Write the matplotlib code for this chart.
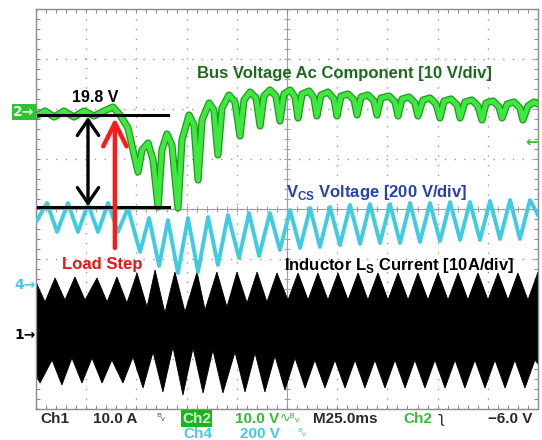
import matplotlib
matplotlib.use("Agg")
import matplotlib.pyplot as plt
import numpy as np
from matplotlib.ticker import MultipleLocator

# =====================================================
# DATA  (time in ms, 25 ms/div; amplitude in screen divisions)
# =====================================================

green_t = [0, 4.5, 9.0, 13.9, 18.9, 23.9, 28.9, 33.9, 38.3, 41.8, 45.8, 48.3,
           50.8, 52.8, 55.8, 58.3, 60.8, 62.7, 65.2, 67.7, 70.7, 72.7, 76.2, 78.7,
           80.7, 82.7, 86.2, 88.6, 90.6, 92.6, 96.1, 99.1, 101.6, 103.6, 106.6, 109.6,
           111.6, 113.5, 116.5, 119.5, 121.5, 123.5, 126.5, 129.0, 130.5, 132.5, 136.0, 138.4,
           139.9, 141.9, 145.4, 148.4, 149.9, 151.9, 155.4, 158.4, 159.9, 161.9, 165.3, 168.3,
           169.8, 171.8, 175.8, 178.8, 180.3, 182.3, 185.8, 188.7, 190.2, 192.7, 196.2, 199.2,
           201.2, 203.2, 206.7, 209.7, 211.2, 213.6, 217.1, 220.1, 222.1, 224.1, 227.6, 230.6,
           232.1, 234.6, 238.0, 241.0, 242.5, 245.0, 248.0, 250.0]
green_v = [1.86, 1.96, 1.84, 1.96, 1.84, 1.96, 1.86, 1.96, 2.04, 1.88, 1.62, 1.18,
           0.74, 1.18, 1.32, 0.98, 0.04, 1.18, 1.50, 1.28, 0.02, 1.38, 1.88, 1.68,
           0.58, 1.78, 2.12, 1.98, 1.08, 2.02, 2.28, 2.14, 1.46, 2.18, 2.34, 2.22,
           1.66, 2.26, 2.38, 2.26, 1.76, 2.30, 2.38, 2.24, 1.82, 2.30, 2.36, 2.22,
           1.86, 2.28, 2.34, 2.20, 1.86, 2.26, 2.30, 2.18, 1.88, 2.24, 2.28, 2.16,
           1.88, 2.22, 2.26, 2.14, 1.86, 2.20, 2.24, 2.12, 1.86, 2.18, 2.22, 2.10,
           1.82, 2.16, 2.20, 2.08, 1.82, 2.14, 2.18, 2.06, 1.78, 2.12, 2.16, 2.04,
           1.82, 2.10, 2.14, 2.02, 1.78, 2.06, 2.14, 2.10]

cyan_t = [0, 5.5, 10.5, 15.9, 20.9, 25.9, 30.9, 35.9, 40.8, 45.8,
          51.8, 56.3, 61.3, 65.7, 70.7, 75.7, 80.7, 85.7, 90.6, 95.6,
          101.1, 106.1, 111.1, 116.5, 121.5, 126.5, 131.5, 136.5, 141.4, 146.4,
          151.4, 156.4, 161.4, 166.3, 171.3, 176.3, 181.3, 186.3, 191.2, 196.2,
          201.2, 206.2, 211.2, 216.1, 221.1, 226.1, 231.1, 236.1, 241.0, 246.0, 250.0]
cyan_v = [-0.26, 0.12, -0.46, 0.12, -0.46, 0.10, -0.46, 0.12, -0.46, 0.02,
          -0.86, -0.18, -1.14, -0.22, -1.28, -0.18, -1.26, -0.16, -1.12, -0.12,
          -0.98, -0.08, -0.94, -0.08, -0.82, -0.02, -0.78, 0.02, -0.76, 0.04,
          -0.72, 0.08, -0.70, 0.10, -0.68, 0.10, -0.68, 0.12, -0.66, 0.12,
          -0.64, 0.14, -0.62, 0.14, -0.62, 0.16, -0.60, 0.18, -0.60, 0.18, -0.12]

# inductor current: upper and lower envelope of the switching band
cur_top_t = [0, 4.5, 9.5, 14.4, 19.4, 24.4, 30.4, 35.4, 40.3, 45.3, 50.3, 55.3,
             59.3, 64.2, 69.2, 74.2, 80.2, 84.2, 90.1, 95.1, 100.1, 105.1, 110.1, 115.0,
             120.0, 125.5, 130.5, 135.5, 140.4, 145.4, 150.4, 155.4, 160.4, 165.3, 170.3, 175.3,
             180.3, 185.3, 190.2, 195.2, 200.2, 205.2, 210.2, 215.1, 220.1, 225.1, 230.1, 235.1,
             240.0, 245.0, 250.0]
cur_top_v = [-1.46, -1.86, -1.38, -1.82, -1.36, -1.82, -1.38, -1.86, -1.36, -1.88, -1.28, -1.96,
             -1.22, -2.08, -1.26, -2.06, -1.26, -2.02, -1.26, -1.96, -1.26, -1.88, -1.26, -1.86,
             -1.28, -1.82, -1.28, -1.82, -1.28, -1.82, -1.28, -1.82, -1.28, -1.82, -1.28, -1.82,
             -1.28, -1.82, -1.28, -1.82, -1.28, -1.82, -1.28, -1.82, -1.28, -1.82, -1.28, -1.82,
             -1.28, -1.82, -1.26]
cur_bot_t = [0, 2.0, 8.0, 12.9, 17.9, 22.9, 27.9, 32.9, 37.8, 43.3, 48.3, 53.3,
             58.3, 63.2, 68.2, 73.2, 78.2, 83.2, 88.1, 93.1, 99.1, 104.1, 109.1, 114.0,
             119.0, 124.0, 129.0, 134.0, 138.9, 143.9, 148.9, 153.9, 158.9, 163.8, 168.8, 173.8,
             178.8, 183.8, 188.7, 193.7, 198.7, 203.7, 208.7, 213.6, 218.6, 223.6, 228.6, 233.6,
             238.5, 243.5, 248.5, 250.0]
cur_bot_v = [-3.32, -3.48, -3.02, -3.52, -2.98, -3.48, -2.98, -3.48, -3.02, -3.48, -2.96, -3.58,
             -2.86, -3.66, -2.76, -3.72, -2.78, -3.68, -2.82, -3.68, -2.86, -3.66, -2.88, -3.66,
             -2.94, -3.62, -2.98, -3.58, -3.02, -3.58, -3.02, -3.58, -3.02, -3.58, -3.02, -3.58,
             -3.02, -3.58, -3.02, -3.58, -3.02, -3.58, -3.02, -3.58, -3.02, -3.58, -3.02, -3.58,
             -3.02, -3.58, -3.02, -3.10]

# markers drawn on top of the scope shot
level_before = 1.88      # 19.8 V line
level_min = 0.04         # bottom of the dip
t_marker = 25.9          # double arrow
t_step = 39.3            # load step instant
step_tail = -0.78

# =====================================================
# FIGURE
# =====================================================

W, H = 542, 440
plt.rcParams["font.family"] = ["Liberation Sans", "DejaVu Sans"]
plt.rcParams["mathtext.fontset"] = "custom"
plt.rcParams["mathtext.rm"] = "Liberation Sans:bold"
plt.rcParams["mathtext.bf"] = "Liberation Sans:bold"

fig = plt.figure(figsize=(W / 100, H / 100), dpi=100)
fig.patch.set_facecolor("white")
rect = [36 / W, 31 / H, 502 / W, 400 / H]

grey = "#8c8c8c"

# center cross with small ticks
axc = fig.add_axes(rect)
axc.set_zorder(0)
axc.set_xlim(0, 250)
axc.set_ylim(-4, 4)
axc.spines["left"].set_position(("data", 125))
axc.spines["bottom"].set_position(("data", 0))
axc.spines["top"].set_visible(False)
axc.spines["right"].set_visible(False)
for s in ["left", "bottom"]:
    axc.spines[s].set_color("#a0a0a0")
    axc.spines[s].set_linewidth(0.8)
axc.xaxis.set_major_locator(MultipleLocator(25))
axc.xaxis.set_minor_locator(MultipleLocator(5))
axc.yaxis.set_major_locator(MultipleLocator(1))
axc.yaxis.set_minor_locator(MultipleLocator(0.2))
axc.tick_params(which="both", direction="inout", length=4, width=0.8, color="#a0a0a0",
                labelbottom=False, labelleft=False)

ax = fig.add_axes(rect)
ax.set_zorder(1)
ax.patch.set_visible(False)
ax.set_xlim(0, 250)
ax.set_ylim(-4, 4)
ax.xaxis.set_major_locator(MultipleLocator(25))
ax.xaxis.set_minor_locator(MultipleLocator(5))
ax.yaxis.set_major_locator(MultipleLocator(1))
ax.yaxis.set_minor_locator(MultipleLocator(0.2))
ax.tick_params(which="both", direction="in", length=3, width=0.8, color=grey,
               top=True, right=True, labelbottom=False, labelleft=False)
ax.grid(True, which="major", color="#9a9a9a", linestyle=(0, (1, 6)), linewidth=1)
for s in ax.spines.values():
    s.set_color(grey)
    s.set_linewidth(1)

# =====================================================
# TRACES
# =====================================================

band_t = np.r_[cur_top_t, cur_bot_t[::-1]]
band_v = np.r_[cur_top_v, cur_bot_v[::-1]]
ax.fill(band_t, band_v, color="black", lw=0.6, zorder=2)

ax.plot(green_t, green_v, color="#1f9a1f", lw=5.2, solid_joinstyle="round", zorder=3)
ax.plot(green_t, green_v, color="#3ee83e", lw=3.4, solid_joinstyle="round", zorder=3)

ax.plot(cyan_t, cyan_v, color="#40cce0", lw=2.8, solid_joinstyle="round", zorder=4)

# =====================================================
# ANNOTATIONS
# =====================================================

ax.plot([1, 65.5], [level_before, level_before], color="black", lw=2.2, zorder=5)
ax.plot([1, 66], [level_min, level_min], color="black", lw=2.2, zorder=5)

ax.annotate("", xy=(t_marker, level_min + 0.02), xytext=(t_marker, level_before - 0.04),
            arrowprops=dict(arrowstyle="<->,head_length=0.8,head_width=0.55", lw=2.4,
                            color="black", shrinkA=0, shrinkB=0, mutation_scale=14),
            zorder=6)
ax.annotate("", xy=(t_step, level_before - 0.06), xytext=(t_step, step_tail),
            arrowprops=dict(arrowstyle="->,head_length=1.2,head_width=0.6", lw=3.2,
                            color="#ff1a1a", shrinkA=0, shrinkB=0, mutation_scale=14),
            zorder=6)

ax.text(29.4, 2.14, "19.8 V", ha="center", va="baseline", fontsize=11.5,
        weight="bold", color="black", zorder=7)
ax.text(80.2, 2.62, "Bus Voltage Ac Component [10 V/div]", ha="left", va="baseline",
        fontsize=12, weight="bold", color="#1c6b1c", zorder=7)
ax.text(124.5, 0.25, r"V$_{\mathrm{CS}}$ Voltage [200 V/div]", ha="left", va="baseline",
        fontsize=12, weight="bold", color="#2541b2", zorder=7)
ax.text(12.9, -1.21, "Load Step", ha="left", va="baseline",
        fontsize=12, weight="bold", color="#ee1111", zorder=7)
ax.text(123.5, -1.22, r"Inductor L$_{\mathrm{S}}$ Current [10A/div]", ha="left",
        va="baseline", fontsize=12, weight="bold", color="black", zorder=7)

# =====================================================
# SCOPE READOUT
# =====================================================

def fx(x):
    return x / W

def fy(y):
    return 1 - y / H

dark = "#2a2a2a"
green = "#33bb33"
cyan = "#40cce0"
ro = dict(fontsize=11, weight="bold", va="baseline")

fig.text(fx(40), fy(423), "Ch1", color=dark, ha="left", **ro)
fig.text(fx(93), fy(423), "10.0 A", color=dark, ha="left", **ro)
fig.text(fx(156), fy(421), "ᴮᵥ", color="#555555", ha="left", fontsize=8,
         family="DejaVu Sans", va="baseline")
fig.text(fx(182), fy(422.5), "Ch2", color="#c8ffc8", ha="left",
         bbox=dict(boxstyle="square,pad=0.08", fc="#22b022", ec="none"), **ro)
fig.text(fx(235), fy(423), "10.0 V", color=green, ha="left", **ro)
fig.text(fx(280), fy(422), "∿ᴮᵥ", color=green, ha="left", fontsize=9,
         family="DejaVu Sans", va="baseline")
fig.text(fx(313), fy(423), "M25.0ms", color=dark, ha="left", **ro)
fig.text(fx(403), fy(423), "Ch2", color=green, ha="left", **ro)
fig.text(fx(438), fy(423), "ʅ", color=dark, ha="left", fontsize=11,
         family="DejaVu Sans", va="baseline")
fig.text(fx(532), fy(423), "\u22126.0 V", color=dark, ha="right", **ro)

fig.text(fx(183), fy(438), "Ch4", color=cyan, ha="left", **ro)
fig.text(fx(240), fy(438), "200 V", color=cyan, ha="left", **ro)
fig.text(fx(297), fy(436), "ᴮᵥ", color=cyan, ha="left", fontsize=8,
         family="DejaVu Sans", va="baseline")

# channel level markers
fig.text(fx(24), fy(112), "2\u2192", color="#eaffea", ha="center", va="center",
         fontsize=10, weight="bold", family="DejaVu Sans",
         bbox=dict(boxstyle="square,pad=0.1", fc="#2ec42e", ec="none"))
fig.text(fx(25), fy(285), "4\u2192", color=cyan, ha="center", va="center",
         fontsize=10, weight="bold", family="DejaVu Sans")
fig.text(fx(25), fy(335), "1\u2192", color="black", ha="center", va="center",
         fontsize=10, weight="bold", family="DejaVu Sans")
fig.text(fx(538), fy(142), "\u2190", color="#2ec42e", ha="right", va="center",
         fontsize=11, weight="bold", family="DejaVu Sans")

fig.savefig("out.png", dpi=100)
